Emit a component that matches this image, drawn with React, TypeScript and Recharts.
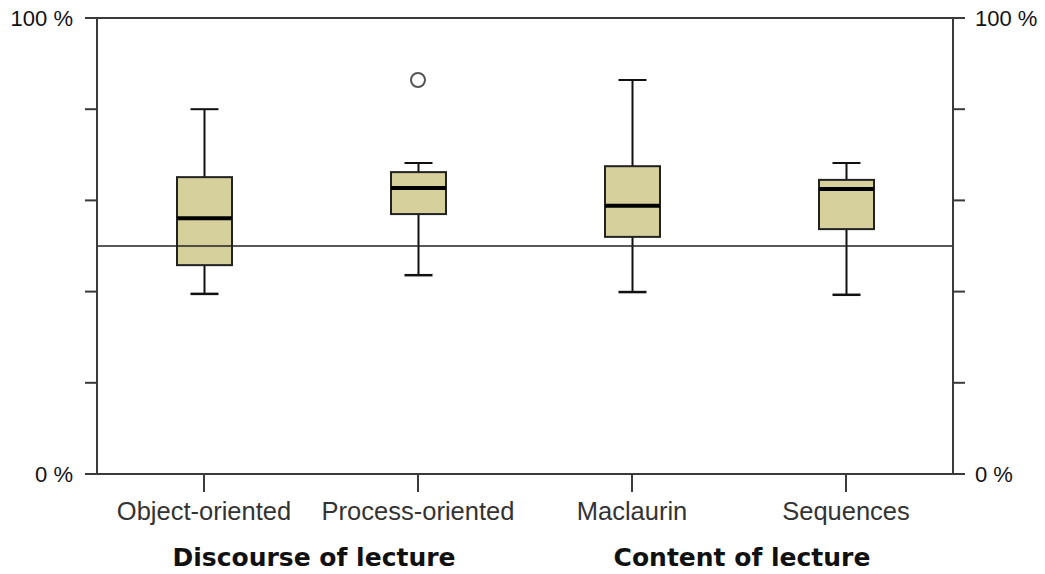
import React from 'react';
import { Bar, ComposedChart, ReferenceLine, Scatter, XAxis, YAxis } from 'recharts';

const categories = ['Object-oriented', 'Process-oriented', 'Maclaurin', 'Sequences'];
const whiskerLow = [39.5, 43.6, 39.9, 39.3];
const q1 = [45.8, 57.0, 52.0, 53.7];
const median = [56.1, 62.7, 58.8, 62.5];
const q3 = [65.1, 66.2, 67.5, 64.5];
const whiskerHigh = [80, 68.2, 86.4, 68.2];
const outliers: (number | null)[] = [null, 86.4, null, null];
const yTicks = [0, 20, 40, 60, 80, 100];
const referenceValue = 50;
const groups = [
  { label: 'Discourse of lecture', from: 0, to: 1 },
  { label: 'Content of lecture', from: 2, to: 3 },
];

const data = categories.map((name, i) => ({
  name,
  whiskerLow: whiskerLow[i],
  q1: q1[i],
  median: median[i],
  q3: q3[i],
  whiskerHigh: whiskerHigh[i],
  outlier: outliers[i],
}));

const W = 1045;
const H = 574;
const PLOT_LEFT = 97;
const PLOT_RIGHT = 953;
const AXIS = '#3a3a3a';
const FONT = '"Liberation Sans", Arial, sans-serif';

const BoxShape = (props: any) => {
  const { x, y, width, height, payload } = props;
  if (!payload || height == null) return null;
  const lo = payload.whiskerLow;
  const hi = payload.whiskerHigh;
  const top = Math.min(y, y + height);
  const h = Math.abs(height);
  const toY = (v: number) => top + ((hi - v) / (hi - lo)) * h;
  const cx = x + width / 2;
  const cap = 14;
  return (
    <g>
      <line x1={cx} x2={cx} y1={toY(hi)} y2={toY(payload.q3)} stroke="#111" strokeWidth={2} />
      <line x1={cx} x2={cx} y1={toY(payload.q1)} y2={toY(lo)} stroke="#111" strokeWidth={2} />
      <line x1={cx - cap} x2={cx + cap} y1={toY(hi)} y2={toY(hi)} stroke="#111" strokeWidth={2} />
      <line x1={cx - cap} x2={cx + cap} y1={toY(lo)} y2={toY(lo)} stroke="#111" strokeWidth={2.5} />
      <rect
        x={x}
        y={toY(payload.q3)}
        width={width}
        height={toY(payload.q1) - toY(payload.q3)}
        fill="#d5d09c"
        stroke="#222"
        strokeWidth={2}
      />
      <line x1={x} x2={x + width} y1={toY(payload.median)} y2={toY(payload.median)} stroke="#000" strokeWidth={4} />
    </g>
  );
};

const OutlierShape = (props: any) => {
  const { cx, cy, payload } = props;
  if (!payload || payload.outlier == null || !isFinite(cy)) return <g />;
  return <circle cx={cx} cy={cy} r={7} fill="#fff" stroke="#555" strokeWidth={2} />;
};

const pctLabel = (v: number) => (v === 0 || v === 100 ? `${v} %` : '');

export default function App() {
  const band = (PLOT_RIGHT - PLOT_LEFT) / categories.length;
  const center = (i: number) => PLOT_LEFT + band * (i + 0.5);
  return (
    <div style={{ position: 'relative', width: W, height: H, background: '#fff' }}>
      <style>{`body{margin:0;overflow:hidden;background:#fff}`}</style>
      <ComposedChart
        width={W}
        height={H}
        data={data}
        margin={{ top: 18, right: 0, bottom: 0, left: 0 }}
      >
        <XAxis
          dataKey="name"
          height={100}
          interval={0}
          tickSize={18}
          tickMargin={10}
          axisLine={{ stroke: AXIS, strokeWidth: 2 }}
          tickLine={{ stroke: AXIS, strokeWidth: 2 }}
          tick={{ fill: '#333', fontSize: 25.5, fontFamily: FONT }}
        />
        <YAxis
          yAxisId="left"
          orientation="left"
          width={97}
          domain={[0, 100]}
          ticks={yTicks}
          interval={0}
          tickSize={12}
          tickMargin={12}
          tickFormatter={pctLabel}
          axisLine={{ stroke: AXIS, strokeWidth: 2 }}
          tickLine={{ stroke: AXIS, strokeWidth: 2 }}
          tick={{ fill: '#111', fontSize: 22, fontFamily: FONT }}
        />
        <YAxis
          yAxisId="right"
          orientation="right"
          width={92}
          domain={[0, 100]}
          ticks={yTicks}
          interval={0}
          tickSize={12}
          tickMargin={10}
          tickFormatter={pctLabel}
          axisLine={{ stroke: AXIS, strokeWidth: 2 }}
          tickLine={{ stroke: AXIS, strokeWidth: 2 }}
          tick={{ fill: '#111', fontSize: 22, fontFamily: FONT }}
        />
        <ReferenceLine yAxisId="left" y={100} stroke={AXIS} strokeWidth={2} ifOverflow="visible" />
        <ReferenceLine yAxisId="left" y={referenceValue} stroke="#222" strokeWidth={1.5} />
        <Bar
          yAxisId="left"
          dataKey={(d: any) => [d.whiskerLow, d.whiskerHigh]}
          barSize={55}
          shape={BoxShape}
          isAnimationActive={false}
        />
        <Scatter
          yAxisId="right"
          dataKey="outlier"
          shape={OutlierShape}
          isAnimationActive={false}
        />
      </ComposedChart>
      <svg
        width={W}
        height={H}
        style={{ position: 'absolute', left: 0, top: 0, pointerEvents: 'none' }}
      >
        {groups.map((g) => (
          <text
            key={g.label}
            x={(center(g.from) + center(g.to)) / 2 + 3}
            y={566}
            textAnchor="middle"
            fontFamily='"DejaVu Sans", sans-serif'
            fontWeight="bold"
            fontSize={25}
            fill="#111"
          >
            {g.label}
          </text>
        ))}
      </svg>
    </div>
  );
}
